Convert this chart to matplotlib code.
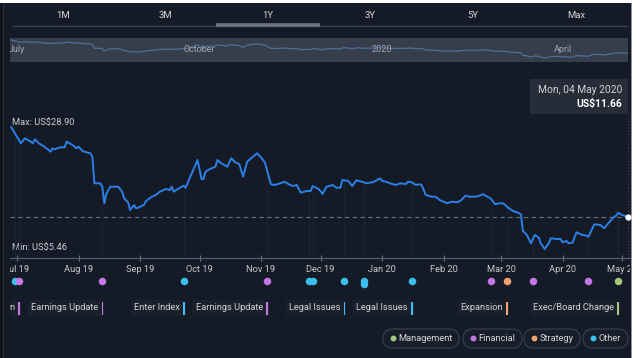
import numpy as np
import matplotlib
matplotlib.use('Agg')
import matplotlib.pyplot as plt
from matplotlib.patches import Rectangle, FancyBboxPatch
from matplotlib import transforms

plt.rcParams['font.family'] = ['Roboto', 'DejaVu Sans']

# ---------------- data ----------------
base_date = np.datetime64('2019-07-01')
day_offsets = [-3, 2, 4, 7, 8, 9, 11, 13, 16, 17, 18, 19, 22, 24, 25, 28, 30, 31, 33, 35,
               37, 38, 39, 42, 43, 44, 45, 47, 51, 53, 54, 56, 57, 59, 60, 61, 64, 65, 68, 70,
               72, 75, 77, 78, 79, 81, 84, 85, 87, 91, 93, 94, 95, 97, 100, 101, 103, 106, 108, 110,
               112, 114, 116, 121, 123, 125, 128, 130, 135, 137, 139, 141, 143, 146, 148, 149, 152, 153, 154, 156,
               158, 159, 161, 163, 164, 167, 169, 171, 174, 176, 179, 180, 183, 184, 186, 188, 191, 193, 196, 197,
               199, 201, 203, 204, 206, 209, 211, 213, 217, 219, 222, 224, 226, 228, 231, 233, 235, 238, 239, 241,
               243, 245, 248, 250, 252, 254, 255, 257, 259, 261, 263, 264, 266, 268, 269, 272, 274, 275, 277, 278,
               280, 282, 285, 287, 288, 291, 294, 296, 298, 301, 302, 303, 305, 308]
prices = [28.90, 25.77, 26.73, 26.08, 25.77, 26.54, 25.77, 25.31, 24.48, 24.15, 24.81, 24.62, 25.00, 25.00, 26.08, 25.44, 24.81, 25.12, 24.29, 24.04,
          23.85, 23.19, 18.08, 18.08, 17.43, 14.24, 16.03, 17.43, 17.43, 16.47, 15.20, 14.43, 12.95, 13.91, 13.28, 13.40, 13.91, 14.68, 15.51, 15.84,
          16.47, 16.99, 16.80, 17.43, 16.47, 16.99, 17.62, 17.24, 19.04, 22.56, 18.91, 18.91, 20.31, 20.77, 21.27, 22.56, 21.93, 21.27, 22.89, 22.12,
          21.79, 19.35, 22.23, 23.85, 23.08, 22.04, 17.89, 17.76, 18.39, 17.89, 17.56, 17.76, 16.28, 16.60, 16.60, 17.56, 16.99, 16.60, 16.03, 17.43,
          17.62, 17.76, 17.24, 17.24, 18.72, 18.53, 17.56, 18.66, 18.39, 18.08, 18.28, 18.39, 19.04, 18.53, 18.39, 18.08, 17.76, 18.08, 17.95, 18.39,
          18.28, 17.76, 17.89, 17.76, 15.84, 15.51, 15.51, 14.87, 14.24, 14.55, 14.43, 14.87, 15.70, 15.51, 15.51, 15.70, 15.97, 15.32, 15.07, 14.05,
          14.24, 14.24, 13.28, 12.76, 12.51, 12.13, 8.92, 8.15, 6.56, 8.15, 7.63, 6.56, 5.46, 6.56, 7.52, 7.38, 7.38, 6.75, 7.00, 6.56,
          6.67, 8.67, 8.15, 8.02, 7.82, 10.21, 10.07, 9.44, 10.40, 11.67, 11.86, 12.43, 11.99, 11.66]

max_price = 28.90
min_price = 5.46
last_price = 11.66
last_date_text = 'Mon, 04 May 2020'

month_starts = ['2019-07-01', '2019-08-01', '2019-09-01', '2019-10-01', '2019-11-01', '2019-12-01',
                '2020-01-01', '2020-02-01', '2020-03-01', '2020-04-01', '2020-05-01']
month_labels = ['Jul 19', 'Aug 19', 'Sep 19', 'Oct 19', 'Nov 19', 'Dec 19',
                'Jan 20', 'Feb 20', 'Mar 20', 'Apr 20', 'May 20']
nav_months = ['2019-07-01', '2019-10-01', '2020-01-01', '2020-04-01']
nav_labels = ['July', 'October', '2020', 'April']
tabs = ['1M', '3M', '1Y', '3Y', '5Y', 'Max']
selected_tab = '1Y'

event_days = [-1, 1, 43, 84, 126, 147, 149, 165, 175, 175, 199, 239, 247, 260, 288, 303]
event_cats = ['Other', 'Financial', 'Financial', 'Other', 'Financial', 'Other', 'Other', 'Other',
              'Other', 'Other', 'Other', 'Financial', 'Strategy', 'Financial', 'Financial', 'Management']
label_days = [1, 43, 84, 126, 165, 199, 247, 303]
label_texts = ['Debt Refinancing Completion', 'Earnings Update', 'Enter Index', 'Earnings Update',
               'Legal Issues', 'Legal Issues', 'Expansion', 'Exec/Board Change']
label_cats = ['Financial', 'Financial', 'Other', 'Financial', 'Other', 'Other', 'Strategy', 'Management']
legend_cats = ['Management', 'Financial', 'Strategy', 'Other']

cat_colors = {'Management': '#a4c97c', 'Financial': '#c678e6', 'Strategy': '#f2a46e', 'Other': '#3cbfee'}

# ---------------- style ----------------
BG = '#151b26'
TXT = '#c9cdd4'
LINE = '#2b7fe8'
W, H = 640, 358

def px2day(p):
    return (p - 17) / 1.984

def px2val(y):
    return max_price - (y - 127) / 5.205

fig = plt.figure(figsize=(6.4, 3.58), dpi=100, facecolor='white')

# decoration axes in pixel coordinates
deco = fig.add_axes([0, 0, 1, 1], zorder=0)
deco.set_xlim(0, W)
deco.set_ylim(H, 0)
deco.axis('off')

deco.add_patch(Rectangle((0, 3), 631, H, fc=BG, ec='none'))
deco.add_patch(Rectangle((631, 3), 1.2, H, fc='#8d9198', ec='none'))
deco.add_patch(Rectangle((0, 3), 3, H, fc='#0f131b', ec='none'))
deco.add_patch(Rectangle((3, 3), 1.3, H, fc='#2a313e', ec='none'))

# tabs
tab_x = [63, 165, 268, 370, 473, 576]
for t, x in zip(tabs, tab_x):
    deco.text(x, 16, t, color='#d4d7dc', fontsize=6.8, ha='center', va='center')
deco.plot([12, 628], [25.5, 25.5], color='#3a414d', lw=1.0, solid_capstyle='butt')
sel = tabs.index(selected_tab)
deco.plot([tab_x[sel] - 52, tab_x[sel] + 52], [25.3, 25.3], color='#6e7580', lw=2.6, solid_capstyle='butt')

# navigator
nav = fig.add_axes([10 / W, (H - 62) / H, 618 / W, 24 / H], zorder=1)
nav.set_facecolor('#373e4b')
for s in nav.spines.values():
    s.set_visible(False)
nav.set_xticks([])
nav.set_yticks([])
nav.set_xlim(px2day(10), px2day(628))
nav.set_ylim(min_price - 4 * (23.44 / 18), max_price + 2 * (23.44 / 18))
nav.plot(day_offsets, prices, color='#4d6f9e', lw=0.9)
for m, lab in zip(nav_months, nav_labels):
    d = (np.datetime64(m) - base_date).astype(int)
    nav.text(d, (min_price + max_price) / 2 - 1.0, lab, color='#a3a8b0', fontsize=6.5,
             ha='center', va='center', clip_on=True)

# main price axes
ax = fig.add_axes([10 / W, (H - 258) / H, 620 / W, 158 / H], zorder=2)
ax.patch.set_visible(False)
ax.set_xlim(px2day(10), px2day(630))
ax.set_ylim(px2val(258), px2val(100))
for k in ['top', 'left', 'right']:
    ax.spines[k].set_visible(False)
ax.spines['bottom'].set_color('#565d69')
ax.spines['bottom'].set_linewidth(0.9)
month_days = [(np.datetime64(m) - base_date).astype(int) for m in month_starts]
ax.set_xticks(month_days)
ax.set_yticks([])
ax.tick_params(axis='x', direction='inout', length=5, width=0.8, color='#6a717c', labelbottom=False)

# faint event lines from price down to axis
uniq = sorted(set(event_days))
ev_prices = np.interp(uniq, day_offsets, prices)
ax.vlines(uniq, px2val(258), ev_prices, color='#1c2330', lw=0.9, zorder=1)

ax.hlines(last_price, px2day(10), day_offsets[-1], color='#6b727e', lw=0.8,
          linestyles=(0, (4, 3)), zorder=2)
ax.vlines(day_offsets[-1], px2val(258), px2val(114), color='#3f4652', lw=0.8,
          linestyles=(0, (1, 2)), zorder=2)
ax.plot(day_offsets, prices, color=LINE, lw=1.4, zorder=3, solid_joinstyle='round')
ax.plot([day_offsets[-1]], [last_price], 'o', color='white', ms=3.5, zorder=4, clip_on=False)

deco.text(12, 123, f'Max: US${max_price:.2f}', color=TXT, fontsize=6.7, ha='left', va='center', zorder=5)
deco.text(12, 248, f'Min: US${min_price:.2f}', color=TXT, fontsize=6.7, ha='left', va='center', zorder=5)

# tooltip
deco.add_patch(Rectangle((530, 79), 98, 35, fc='#272d38', ec='none'))
deco.text(622, 90, last_date_text, color='#d0d3d8', fontsize=7.4, ha='right', va='center')
deco.text(622, 104, f'US${last_price:.2f}', color='white', fontsize=7.4, ha='right', va='center',
          fontweight='bold')

# event strip axes
ev = fig.add_axes([10 / W, (H - 320) / H, 620 / W, 60 / H], zorder=3)
ev.patch.set_visible(False)
ev.axis('off')
ev.set_xlim(px2day(10), px2day(630))
ev.set_ylim(320, 260)

for d, lab in zip(month_days, month_labels):
    ev.text(d, 269, lab, color='#c3c7ce', fontsize=6.7, ha='center', va='center', clip_on=True)

seen = {}
for d, c in zip(event_days, event_cats):
    n = seen.get(d, 0)
    seen[d] = n + 1
    ev.plot([d], [280.7 + 3.5 * n], 'o', color=cat_colors[c], ms=5.4, mec='none', zorder=3)

off = transforms.offset_copy(ev.transData, fig=fig, x=-4, y=0, units='dots')
for d, t, c in zip(label_days, label_texts, label_cats):
    ev.vlines(d, 301.5, 315, color=cat_colors[c], lw=1.6, zorder=3)
    ev.text(d, 308, t, transform=off, color='#cfd3d9', fontsize=6.7, ha='right', va='center',
            clip_on=True, bbox=dict(boxstyle='square,pad=0.35', fc='#1a212c', ec='none'))

# legend pills
pill_x = [(383, 459), (463, 522), (524, 580), (583, 628)]
for (x0, x1), c in zip(pill_x, legend_cats):
    deco.add_patch(FancyBboxPatch((x0, 329), x1 - x0, 19,
                                  boxstyle='round,pad=0,rounding_size=9.5', fc='#181e29',
                                  ec='#3a414d', lw=0.8))
    deco.plot([x0 + 9.5], [338.3], 'o', color=cat_colors[c], ms=4.2, mec='none')
    deco.text(x0 + 15.5, 338.3, c, color='#d0d4da', fontsize=6.7, ha='left', va='center')

fig.savefig('out.png', dpi=100, facecolor=fig.get_facecolor())
